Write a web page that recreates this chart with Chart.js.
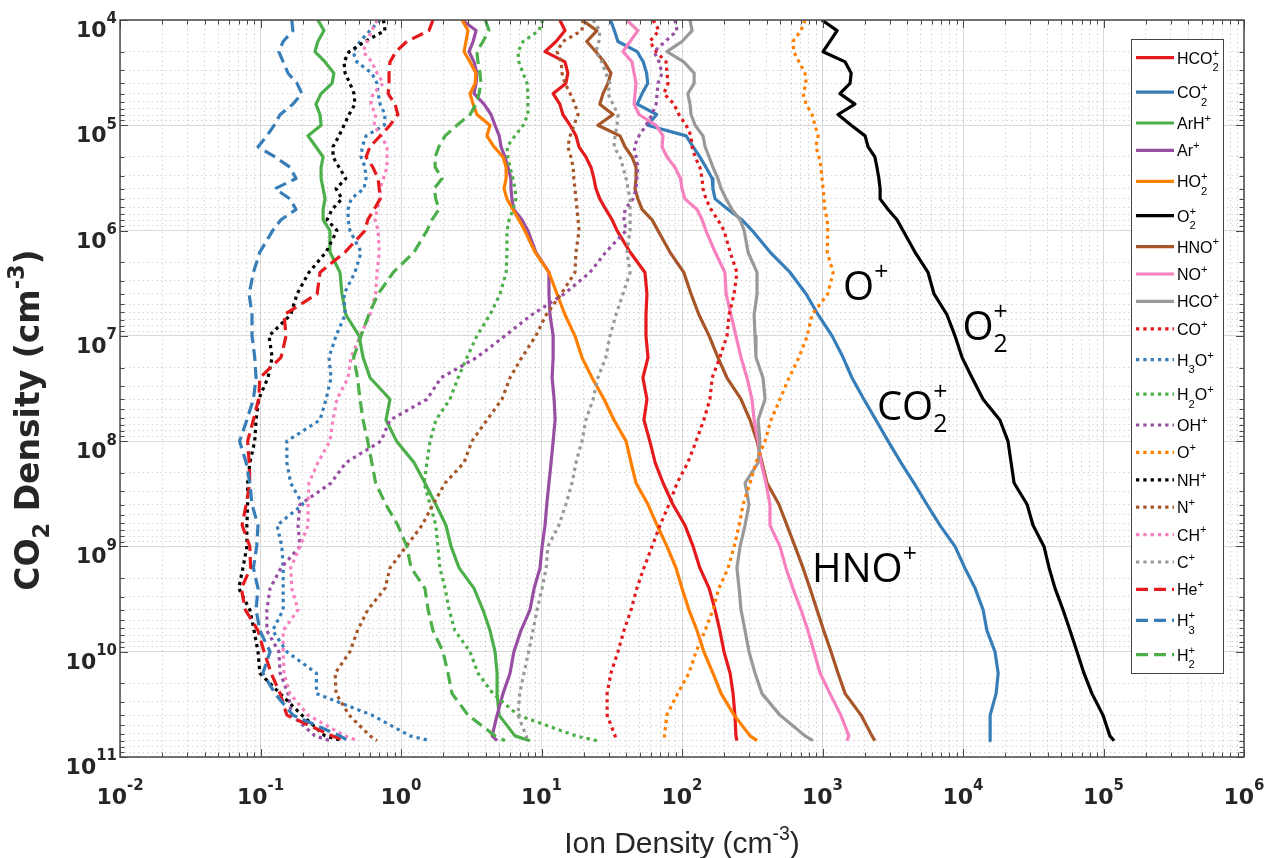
<!DOCTYPE html>
<html lang="en">
<head>
<meta charset="UTF-8" />
<title>Ion Density vs CO2 Density</title>
<script src="https://cdn.jsdelivr.net/npm/chart.js"></script>
<style>
  body { margin: 0; background: #ffffff; }
  canvas { display: block; }
</style>
</head>
<body>
<canvas id="ionChart" width="1268" height="858"></canvas>
<script>
  const yLevels = [1e4, 1.26e4, 1.6e4, 2e4, 2.5e4, 3.2e4, 4e4, 5e4, 6.3e4, 7.9e4,
    1e5, 1.26e5, 1.6e5, 2e5, 2.5e5, 3.2e5, 4e5, 5e5, 6.3e5, 7.9e5,
    1e6, 1.6e6, 2.5e6, 4e6, 6.3e6, 1e7, 1.6e7, 2.5e7, 4e7, 6.3e7,
    1e8, 1.6e8, 2.5e8, 4e8, 6.3e8, 1e9, 1.6e9, 2.5e9, 4e9, 6.3e9,
    1e10, 1.6e10, 2.5e10, 4e10, 6.3e10, 7e10];

  // ion densities (cm^-3), one value per level above
  const hco2p = [13.5, 14.7, 12.7, 10.6, 14.7, 15.4, 14.9, 12.1, 13.5, 14.2, 16, 17.6, 18.5, 20.7, 22.5, 23.6, 24.4, 26, 28.7, 31.8, 34.5,
    42.7, 54.5, 56.3, 55.4, 55.4, 57.3, 52.7, 56.3, 53.6, 59.0, 64.4, 73.3, 86.2, 105, 120, 134, 156, 172, 186, 199, 220, 231, 238, 242, 246];
  const co2p = [31, 33, 35, 48, 53, 56, 57, 52, 48, 66, 57, 107, 120, 134, 148, 164, 166, 172, 213, 267, 316,
    423, 588, 765, 930, 1170, 1400, 1620, 1970, 2400, 2930, 3620, 4480, 5540, 6860, 8770, 10300, 12200, 13900, 14800, 16900, 17800, 17200, 15600, 15600, 15600];
  const arhp = [0.256, 0.283, 0.256, 0.244, 0.288, 0.333, 0.323, 0.27, 0.248, 0.265, 0.27, 0.218, 0.248, 0.279, 0.27, 0.27, 0.279, 0.288, 0.279, 0.279, 0.312,
    0.312, 0.368, 0.380, 0.405, 0.503, 0.537, 0.602, 0.835, 0.782, 0.93, 1.24, 1.48, 1.77, 2.09, 2.27, 2.59, 3.31, 3.83, 4.30, 4.67, 4.83, 4.83, 4.99, 6.47, 8.28];
  const arp = [2.72, 3.42, 3.26, 3.05, 3.31, 3.47, 3.42, 3.31, 3.9, 4.37, 4.67, 5.0, 5.15, 5.5, 5.77, 6.06, 6.06, 6.16, 6.36, 7.25, 8.0,
    9.1, 11.3, 11.3, 11.5, 12.1, 12.1, 11.9, 12.3, 12.5, 12.1, 11.7, 11.3, 10.9, 10.6, 10.1, 9.76, 8.86, 8.28, 7.14, 6.36, 5.97, 5.32, 4.83, 4.45, 4.83];
  const ho2p = [2.72, 3.0, 2.9, 2.81, 3.1, 3.42, 3.37, 3.1, 3.26, 3.47, 4.3, 4.09, 4.59, 5.32, 5.6, 5.6, 5.41, 5.68, 6.26, 6.9, 7.6,
    8.99, 11.3, 12.9, 14.7, 17.3, 19.4, 22.9, 27.9, 32.8, 40.0, 43.4, 47.1, 57.3, 66.5, 78.2, 90.6, 100, 112, 128, 143, 166, 190, 235, 305, 342];
  const o2p = [990, 1270, 1130, 1010, 1450, 1600, 1570, 1330, 1700, 1290, 1600, 2010, 2110, 2360, 2440, 2520, 2570, 2570, 2930, 3390, 3740,
    4550, 5640, 6220, 7690, 8770, 9840, 11600, 13900, 18300, 20900, 22000, 23100, 28600, 31500, 37700, 41000, 45200, 51500, 57800, 64800, 72600, 82800, 99100, 111000, 119000];
  const hnop = [19.4, 24.8, 21, 24.4, 27.9, 31.2, 29.7, 27.4, 26, 32.3, 25.2, 36.2, 39.3, 44.1, 47.1, 47.1, 46.3, 48.5, 52, 61.2, 67.4,
    82, 103, 116, 132, 156, 180, 209, 263, 305, 342, 371, 403, 490, 559, 637, 727, 814, 913, 1020, 1150, 1290, 1450, 1880, 2250, 2360];
  const nop = [40.5, 48.5, 42.7, 38, 44.1, 45.6, 47.1, 46.3, 45.6, 49.4, 65.4, 73.3, 72.1, 78.2, 89, 97.6, 100, 105, 128, 139, 148,
    172, 202, 206, 223, 242, 263, 290, 315, 326, 348, 365, 396, 423, 423, 498, 549, 616, 703, 788, 870, 962, 1130, 1350, 1540, 1490];
  const hcop = [114, 118, 100, 78.2, 103, 122, 122, 110, 114, 116, 124, 141, 146, 156, 166, 180, 190, 206, 227, 259, 277,
    295, 342, 342, 326, 331, 336, 377, 390, 348, 359, 348, 281, 300, 281, 259, 246, 255, 263, 281, 300, 331, 371, 498, 751, 855];
  const cop = [62.3, 68.6, 59, 65.4, 77, 78.2, 79.5, 74.3, 87.7, 95, 107, 116, 118, 124, 134, 139, 141, 148, 161, 180, 199,
    220, 246, 235, 216, 209, 186, 164, 158, 143, 126, 110, 92.2, 80.8, 69.8, 61.2, 53.6, 47.7, 43.4, 38.6, 35.0, 31.2, 29.3, 29.3, 33.4, 35.0];
  const h3op = [0.71, 0.602, 0.511, 0.455, 0.485, 0.62, 0.675, 0.687, 0.71, 0.77, 0.76, 0.564, 0.53, 0.52, 0.554, 0.564, 0.545, 0.441, 0.42, 0.42, 0.433,
    0.52, 0.47, 0.393, 0.40, 0.345, 0.307, 0.318, 0.293, 0.265, 0.154, 0.154, 0.164, 0.20, 0.131, 0.142, 0.145, 0.145, 0.145, 0.122, 0.154, 0.25, 0.25, 0.62, 1.16, 1.61];
  const h2op = [10.2, 9.6, 7.4, 6.8, 6.9, 7.4, 7.9, 8.0, 8.0, 8.0, 7.4, 6.47, 5.68, 5.77, 5.97, 6.26, 6.47, 6.58, 6.26, 5.88, 5.68,
    5.68, 5.6, 5.07, 4.30, 3.47, 2.95, 2.55, 2.23, 1.77, 1.61, 1.53, 1.46, 1.61, 1.77, 1.83, 1.89, 2.06, 2.2, 2.42, 3.10, 3.53, 4.52, 6.8, 17.5, 24.8];
  const ohp = [89, 92.2, 76, 63.2, 68.6, 72.1, 67.4, 66.5, 65.4, 61.2, 55.4, 49.4, 45.6, 47.1, 48.5, 47.7, 47.1, 44.8, 39.3, 38.6, 40,
    28.7, 22.1, 14.5, 8.54, 5.50, 3.47, 1.93, 1.53, 0.835, 0.72, 0.405, 0.318, 0.191, 0.185, 0.191, 0.14, 0.117, 0.111, 0.111, 0.135, 0.138, 0.157, 0.167, 0.244, 0.312];
  const op = [751, 703, 616, 626, 680, 751, 765, 727, 765, 842, 885, 930, 898, 944, 977, 992, 1010, 1025, 1040, 1080, 1090,
    1080, 1190, 1090, 842, 779, 680, 578, 498, 430, 390, 336, 305, 272, 255, 235, 213, 183, 166, 146, 126, 112, 93, 78, 75, 75];
  const nhp = [0.75, 0.77, 0.554, 0.427, 0.393, 0.40, 0.433, 0.463, 0.47, 0.427, 0.393, 0.362, 0.328, 0.328, 0.362, 0.405, 0.345, 0.38, 0.323, 0.298, 0.35,
    0.293, 0.221, 0.182, 0.164, 0.115, 0.121, 0.113, 0.097, 0.093, 0.091, 0.084, 0.081, 0.081, 0.080, 0.080, 0.075, 0.070, 0.084, 0.090, 0.096, 0.099, 0.138, 0.197, 0.288, 0.386];
  const np = [19.8, 19.4, 14.2, 12.9, 13.8, 14.0, 14.7, 16.0, 17.3, 18.2, 17.0, 16.0, 15.4, 16.2, 16.8, 17.0, 17.3, 17.6, 17.9, 18.2, 18.5,
    17.6, 17.3, 13.8, 10.8, 9.1, 7.25, 5.97, 5.23, 4.09, 3.20, 2.81, 2.06, 1.69, 1.41, 1.09, 0.835, 0.77, 0.58, 0.49, 0.433, 0.34, 0.345, 0.427, 0.602, 0.675];
  const chp = [0.675, 0.62, 0.573, 0.537, 0.62, 0.675, 0.75, 0.63, 0.61, 0.66, 0.643, 0.72, 0.795, 0.795, 0.795, 0.75, 0.71, 0.71, 0.675, 0.654, 0.687,
    0.70, 0.675, 0.66, 0.602, 0.511, 0.441, 0.42, 0.35, 0.328, 0.312, 0.256, 0.221, 0.218, 0.218, 0.191, 0.164, 0.167, 0.185, 0.145, 0.145, 0.147, 0.162, 0.218, 0.40, 0.49];
  const cp = [23.3, 26, 25.6, 24.4, 26.9, 28.7, 30.7, 29.7, 32.3, 35, 34.5, 33.4, 32.8, 36.2, 38, 40, 41.3, 42.7, 42.7, 42.7, 42.7,
    40.6, 42.7, 38.0, 33.9, 30.7, 28.7, 25.2, 23.3, 20.7, 19.4, 17.6, 16.5, 14.9, 13.3, 11.1, 10.8, 10.1, 9.3, 8.7, 8.1, 7.5, 7.0, 6.8, 7.8, 7.9];
  const hep = [1.69, 1.58, 1.10, 0.92, 0.835, 0.822, 0.822, 0.81, 0.906, 0.95, 0.835, 0.71, 0.602, 0.564, 0.63, 0.687, 0.70, 0.71, 0.643, 0.58, 0.554,
    0.40, 0.265, 0.253, 0.147, 0.152, 0.14, 0.099, 0.097, 0.089, 0.081, 0.083, 0.084, 0.079, 0.074, 0.084, 0.085, 0.073, 0.078, 0.096, 0.106, 0.119, 0.138, 0.154, 0.323, 0.405];
  const h3p = [0.167, 0.17, 0.145, 0.135, 0.145, 0.157, 0.182, 0.197, 0.17, 0.138, 0.125, 0.111, 0.096, 0.127, 0.162, 0.179, 0.127, 0.162, 0.179, 0.14, 0.122,
    0.099, 0.089, 0.083, 0.087, 0.087, 0.091, 0.093, 0.089, 0.080, 0.071, 0.079, 0.084, 0.087, 0.096, 0.094, 0.089, 0.096, 0.093, 0.099, 0.117, 0.104, 0.127, 0.170, 0.368, 0.42];
  const h2p = [3.98, 4.23, 3.83, 3.47, 3.53, 3.65, 3.71, 3.59, 3.42, 3.1, 2.5, 2.06, 1.86, 1.75, 1.75, 1.96, 1.72, 1.77, 1.86, 1.66, 1.53,
    1.24, 0.88, 0.687, 0.59, 0.52, 0.46, 0.49, 0.511, 0.537, 0.58, 0.62, 0.66, 0.78, 0.95, 1.10, 1.18, 1.48, 1.56, 1.69, 1.99, 2.16, 2.31, 3.0, 4.67, 5.5];

  // species, in legend order ( _{..} subscript, ^{..} superscript )
  const ionLabels = ['HCO_{2}^{+}', 'CO_{2}^{+}', 'ArH^{+}', 'Ar^{+}', 'HO_{2}^{+}', 'O_{2}^{+}', 'HNO^{+}', 'NO^{+}', 'HCO^{+}',
    'CO^{+}', 'H_{3}O^{+}', 'H_{2}O^{+}', 'OH^{+}', 'O^{+}', 'NH^{+}', 'N^{+}', 'CH^{+}', 'C^{+}',
    'He^{+}', 'H_{3}^{+}', 'H_{2}^{+}'];
  const ionSeries = [hco2p, co2p, arhp, arp, ho2p, o2p, hnop, nop, hcop,
    cop, h3op, h2op, ohp, op, nhp, np, chp, cp,
    hep, h3p, h2p];
  const ionColors = ['#e41a1c', '#377eb8', '#4daf4a', '#984ea3', '#ff7f00', '#000000', '#a65628', '#f781bf', '#999999',
    '#e41a1c', '#377eb8', '#4daf4a', '#984ea3', '#ff7f00', '#000000', '#a65628', '#f781bf', '#999999',
    '#e41a1c', '#377eb8', '#4daf4a'];
  const ionStyles = ['solid', 'solid', 'solid', 'solid', 'solid', 'solid', 'solid', 'solid', 'solid',
    'dot', 'dot', 'dot', 'dot', 'dot', 'dot', 'dot', 'dot', 'dot',
    'dash', 'dash', 'dash'];

  // axis ticks
  const xMajor = [1e-2, 1e-1, 1, 10, 100, 1e3, 1e4, 1e5, 1e6];
  const xTickLabels = ['10^{-2}', '10^{-1}', '10^{0}', '10^{1}', '10^{2}', '10^{3}', '10^{4}', '10^{5}', '10^{6}'];
  const yMajor = [1e4, 1e5, 1e6, 1e7, 1e8, 1e9, 1e10, 1e11];
  const yTickLabels = ['10^{4}', '10^{5}', '10^{6}', '10^{7}', '10^{8}', '10^{9}', '10^{10}', '10^{11}'];

  // in-plot labels (data coordinates)
  const noteLabels = ['O^{+}', 'O_{2}^{+}', 'CO_{2}^{+}', 'HNO^{+}'];
  const noteX = [1400, 9900, 2440, 842];
  const noteY = [4.6e6, 1.1e7, 6.3e7, 2.2e9];

  const dashes = { solid: [], dot: [3.3, 4], dash: [12, 6] };

  function withMinors(majors) {
    const out = [];
    majors.forEach((v, i) => {
      out.push(v);
      if (i < majors.length - 1) for (let m = 2; m <= 9; m++) out.push(m * v);
    });
    return out;
  }
  const isMajor = v => Math.abs(Math.log10(v) - Math.round(Math.log10(v))) < 1e-6;

  // draw text with _{sub} / ^{sup} runs, sub+sup stacked; returns width
  function drawRich(ctx, str, x, y, f, draw = true) {
    const re = /([_^])\{([^}]*)\}|([^_^]+)/g;
    let m, cx = x, start = x, prev = 'n';
    while ((m = re.exec(str)) !== null) {
      const kind = m[3] !== undefined ? 'n' : (m[1] === '_' ? 'sub' : 'sup');
      const text = kind === 'n' ? m[3] : m[2];
      const size = kind === 'n' ? f.size : f.size * f.scale;
      ctx.font = f.weight + ' ' + size + 'px ' + f.family;
      const w = ctx.measureText(text).width;
      let dx = cx;
      if (kind !== 'n') {
        if (prev !== 'n' && prev !== kind) dx = start; else start = cx;
      }
      const dy = kind === 'sub' ? f.size * f.subDy : kind === 'sup' ? -f.size * f.supDy : 0;
      if (draw) ctx.fillText(text, dx, y + dy);
      cx = Math.max(cx, dx + w);
      prev = kind;
    }
    return cx - x;
  }

  const tickFont = { size: 22, weight: 'bold', family: "'DejaVu Sans'", scale: 0.68, supDy: 0.62, subDy: 0.3 };
  const yTitleFont = { size: 33, weight: 'bold', family: "'DejaVu Sans'", scale: 0.68, supDy: 0.45, subDy: 0.3 };
  const xTitleFont = { size: 30, weight: 'normal', family: "'Liberation Sans'", scale: 0.65, supDy: 0.45, subDy: 0.3 };
  const legendFont = { size: 16, weight: 'normal', family: "'Liberation Sans'", scale: 0.7, supDy: 0.45, subDy: 0.48 };
  const noteFont = { size: 40, weight: 'normal', family: "'Open Sans'", scale: 0.62, supDy: 0.5, subDy: 0.3 };

  const decor = {
    id: 'decor',
    afterDatasetsDraw(chart) {
      const { ctx, chartArea: a, scales: { x, y } } = chart;
      ctx.save();
      ctx.fillStyle = '#000';
      ctx.textBaseline = 'alphabetic';

      // in-plot species labels
      noteLabels.forEach((t, i) => {
        drawRich(ctx, t, x.getPixelForValue(noteX[i]), y.getPixelForValue(noteY[i]), noteFont);
      });

      // legend box
      const lx = 1131, ly = 39, lw = 92, lh = 634;
      ctx.fillStyle = '#fff';
      ctx.fillRect(lx, ly, lw, lh);
      ctx.strokeStyle = '#444';
      ctx.lineWidth = 1;
      ctx.strokeRect(lx + 0.5, ly + 0.5, lw, lh);
      let cy = 57.7;
      chart.data.datasets.forEach((ds, i) => {
        const sub = s => s.includes('_{') ? 1 : 0;
        if (i > 0) cy += 27.4 + 3.5 * sub(ionLabels[i - 1]) + 3.5 * sub(ionLabels[i]);
        ctx.strokeStyle = ds.borderColor;
        ctx.lineWidth = ds.borderWidth;
        ctx.setLineDash(ds.borderDash);
        ctx.beginPath();
        ctx.moveTo(1136, cy);
        ctx.lineTo(1174, cy);
        ctx.stroke();
        ctx.setLineDash([]);
        ctx.fillStyle = '#000';
        drawRich(ctx, ds.label, 1177, cy + 6, legendFont);
      });

      // frame and inward ticks
      ctx.strokeStyle = '#4a4a4a';
      ctx.lineWidth = 1.5;
      ctx.strokeRect(a.left, a.top, a.right - a.left, a.bottom - a.top);
      ctx.lineWidth = 1;
      ctx.beginPath();
      x.ticks.forEach(t => {
        const px = Math.round(x.getPixelForValue(t.value)) + 0.5;
        const len = isMajor(t.value) ? 8 : 4.5;
        ctx.moveTo(px, a.bottom); ctx.lineTo(px, a.bottom - len);
        ctx.moveTo(px, a.top); ctx.lineTo(px, a.top + len);
      });
      y.ticks.forEach(t => {
        const py = Math.round(y.getPixelForValue(t.value)) + 0.5;
        const len = isMajor(t.value) ? 8 : 4.5;
        ctx.moveTo(a.left, py); ctx.lineTo(a.left + len, py);
        ctx.moveTo(a.right, py); ctx.lineTo(a.right - len, py);
      });
      ctx.stroke();

      // tick labels
      ctx.fillStyle = '#262626';
      xMajor.forEach((v, i) => {
        const w = drawRich(ctx, xTickLabels[i], 0, 0, tickFont, false);
        drawRich(ctx, xTickLabels[i], x.getPixelForValue(v) - w / 2, 804, tickFont);
      });
      yMajor.forEach((v, i) => {
        const w = drawRich(ctx, yTickLabels[i], 0, 0, tickFont, false);
        drawRich(ctx, yTickLabels[i], 117 - w, y.getPixelForValue(v) + 17, tickFont);
      });

      // axis titles
      const xt = 'Ion Density (cm^{-3})';
      const xw = drawRich(ctx, xt, 0, 0, xTitleFont, false);
      drawRich(ctx, xt, 682 - xw / 2, 853, xTitleFont);
      const yt = 'CO_{2} Density (cm^{-3})';
      const yw = drawRich(ctx, yt, 0, 0, yTitleFont, false);
      ctx.translate(39, 420);
      ctx.rotate(-Math.PI / 2);
      drawRich(ctx, yt, -yw / 2, 0, yTitleFont);
      ctx.restore();
    }
  };

  const datasets = ionSeries.map((vals, i) => ({
    label: ionLabels[i],
    data: vals.map((v, k) => ({ x: v, y: yLevels[k] })),
    borderColor: ionColors[i],
    borderWidth: 3.2,
    borderDash: dashes[ionStyles[i]],
    borderCapStyle: 'butt',
    borderJoinStyle: 'round',
    pointRadius: 0,
    showLine: true,
    tension: 0,
    order: ionSeries.length - i
  }));

  const xGrid = withMinors(xMajor);
  const yGrid = withMinors(yMajor);

  const gridColor = c => (c.tick && isMajor(c.tick.value)) ? '#d9d9d9' : 'rgba(0,0,0,0.16)';
  const gridDash = c => (c.tick && isMajor(c.tick.value)) ? [] : [1.5, 3];

  new Chart(document.getElementById('ionChart'), {
    type: 'scatter',
    data: { datasets },
    options: {
      responsive: false,
      animation: false,
      events: [],
      layout: { padding: { left: 120, top: 20, right: 24, bottom: 101 } },
      plugins: { legend: { display: false }, tooltip: { enabled: false } },
      scales: {
        x: {
          type: 'logarithmic', min: 1e-2, max: 1e6,
          afterBuildTicks: s => { s.ticks = xGrid.map(v => ({ value: v })); },
          ticks: { display: false },
          grid: { color: gridColor, lineWidth: 1, drawTicks: false },
          border: { display: false, dash: gridDash }
        },
        y: {
          type: 'logarithmic', min: 1e4, max: 1e11, reverse: true,
          afterBuildTicks: s => { s.ticks = yGrid.map(v => ({ value: v })); },
          ticks: { display: false },
          grid: { color: gridColor, lineWidth: 1, drawTicks: false },
          border: { display: false, dash: gridDash }
        }
      }
    },
    plugins: [decor]
  });
</script>
</body>
</html>
